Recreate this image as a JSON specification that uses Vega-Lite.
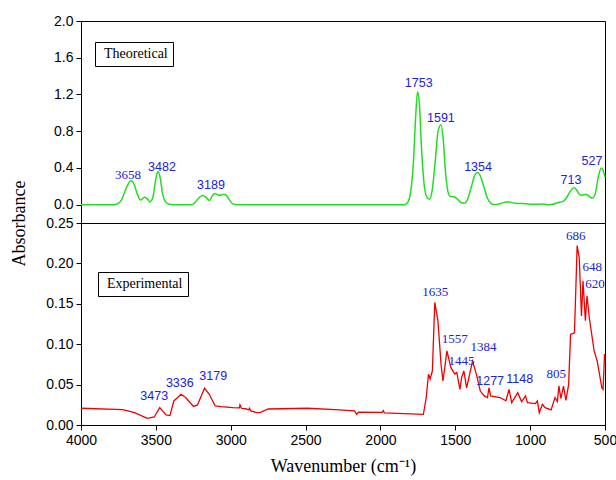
{
  "$schema": "https://vega.github.io/schema/vega-lite/v6.json",
  "padding": {"left": 9, "top": 13, "right": 0, "bottom": 0},
  "background": "white",
  "spacing": 0,
  "bounds": "flush",
  "datasets": {
    "spectra": [
      {"series":"Theoretical","w":4000,"a":0},{"series":"Theoretical","w":3780,"a":0},{"series":"Theoretical","w":3760,"a":0.005},{"series":"Theoretical","w":3730,"a":0.05},{"series":"Theoretical","w":3700,"a":0.17},{"series":"Theoretical","w":3668,"a":0.26},{"series":"Theoretical","w":3650,"a":0.24},{"series":"Theoretical","w":3625,"a":0.12},{"series":"Theoretical","w":3603,"a":0.05},{"series":"Theoretical","w":3576,"a":0.08},{"series":"Theoretical","w":3555,"a":0.06},{"series":"Theoretical","w":3540,"a":0.03},{"series":"Theoretical","w":3520,"a":0.08},{"series":"Theoretical","w":3500,"a":0.28},{"series":"Theoretical","w":3486,"a":0.36},{"series":"Theoretical","w":3472,"a":0.3},{"series":"Theoretical","w":3455,"a":0.12},{"series":"Theoretical","w":3435,"a":0.03},{"series":"Theoretical","w":3410,"a":0.005},{"series":"Theoretical","w":3390,"a":0},{"series":"Theoretical","w":3260,"a":0},{"series":"Theoretical","w":3240,"a":0.02},{"series":"Theoretical","w":3215,"a":0.07},{"series":"Theoretical","w":3188,"a":0.1},{"series":"Theoretical","w":3165,"a":0.08},{"series":"Theoretical","w":3143,"a":0.045},{"series":"Theoretical","w":3125,"a":0.09},{"series":"Theoretical","w":3105,"a":0.12},{"series":"Theoretical","w":3090,"a":0.11},{"series":"Theoretical","w":3075,"a":0.1},{"series":"Theoretical","w":3055,"a":0.11},{"series":"Theoretical","w":3038,"a":0.11},{"series":"Theoretical","w":3020,"a":0.08},{"series":"Theoretical","w":3000,"a":0.03},{"series":"Theoretical","w":2980,"a":0.005},{"series":"Theoretical","w":2960,"a":0},{"series":"Theoretical","w":1840,"a":0},{"series":"Theoretical","w":1820,"a":0.02},{"series":"Theoretical","w":1800,"a":0.12},{"series":"Theoretical","w":1780,"a":0.45},{"series":"Theoretical","w":1765,"a":0.95},{"series":"Theoretical","w":1752,"a":1.23},{"series":"Theoretical","w":1740,"a":1.1},{"series":"Theoretical","w":1725,"a":0.6},{"series":"Theoretical","w":1705,"a":0.18},{"series":"Theoretical","w":1685,"a":0.07},{"series":"Theoretical","w":1670,"a":0.06},{"series":"Theoretical","w":1655,"a":0.15},{"series":"Theoretical","w":1635,"a":0.45},{"series":"Theoretical","w":1615,"a":0.8},{"series":"Theoretical","w":1595,"a":0.87},{"series":"Theoretical","w":1580,"a":0.7},{"series":"Theoretical","w":1565,"a":0.35},{"series":"Theoretical","w":1550,"a":0.15},{"series":"Theoretical","w":1535,"a":0.09},{"series":"Theoretical","w":1510,"a":0.085},{"series":"Theoretical","w":1485,"a":0.06},{"series":"Theoretical","w":1460,"a":0.02},{"series":"Theoretical","w":1440,"a":0.015},{"series":"Theoretical","w":1420,"a":0.05},{"series":"Theoretical","w":1395,"a":0.18},{"series":"Theoretical","w":1370,"a":0.32},{"series":"Theoretical","w":1351,"a":0.35},{"series":"Theoretical","w":1335,"a":0.32},{"series":"Theoretical","w":1310,"a":0.2},{"series":"Theoretical","w":1285,"a":0.07},{"series":"Theoretical","w":1260,"a":0.01},{"series":"Theoretical","w":1240,"a":0},{"series":"Theoretical","w":1200,"a":0.01},{"series":"Theoretical","w":1160,"a":0.03},{"series":"Theoretical","w":1140,"a":0.028},{"series":"Theoretical","w":1100,"a":0.015},{"series":"Theoretical","w":1050,"a":0.012},{"series":"Theoretical","w":1000,"a":0.005},{"series":"Theoretical","w":960,"a":0.003},{"series":"Theoretical","w":920,"a":0.008},{"series":"Theoretical","w":880,"a":0},{"series":"Theoretical","w":850,"a":0.003},{"series":"Theoretical","w":820,"a":0.02},{"series":"Theoretical","w":780,"a":0.035},{"series":"Theoretical","w":755,"a":0.08},{"series":"Theoretical","w":730,"a":0.15},{"series":"Theoretical","w":707,"a":0.185},{"series":"Theoretical","w":690,"a":0.16},{"series":"Theoretical","w":670,"a":0.11},{"series":"Theoretical","w":656,"a":0.1},{"series":"Theoretical","w":640,"a":0.11},{"series":"Theoretical","w":624,"a":0.11},{"series":"Theoretical","w":605,"a":0.09},{"series":"Theoretical","w":584,"a":0.07},{"series":"Theoretical","w":565,"a":0.12},{"series":"Theoretical","w":545,"a":0.3},{"series":"Theoretical","w":525,"a":0.4},{"series":"Theoretical","w":512,"a":0.37},{"series":"Theoretical","w":500,"a":0.3},
      {"series":"Experimental","w":4000,"a":0.0207},{"series":"Experimental","w":3721,"a":0.019},{"series":"Experimental","w":3642,"a":0.0153},{"series":"Experimental","w":3558,"a":0.0083},{"series":"Experimental","w":3511,"a":0.0099},{"series":"Experimental","w":3474,"a":0.0215},{"series":"Experimental","w":3432,"a":0.0124},{"series":"Experimental","w":3406,"a":0.0116},{"series":"Experimental","w":3380,"a":0.0298},{"series":"Experimental","w":3354,"a":0.034},{"series":"Experimental","w":3333,"a":0.038},{"series":"Experimental","w":3301,"a":0.034},{"series":"Experimental","w":3249,"a":0.023},{"series":"Experimental","w":3222,"a":0.0248},{"series":"Experimental","w":3175,"a":0.0455},{"series":"Experimental","w":3143,"a":0.038},{"series":"Experimental","w":3104,"a":0.0236},{"series":"Experimental","w":3064,"a":0.0227},{"series":"Experimental","w":2986,"a":0.0215},{"series":"Experimental","w":2942,"a":0.0212},{"series":"Experimental","w":2938,"a":0.0248},{"series":"Experimental","w":2928,"a":0.0207},{"series":"Experimental","w":2894,"a":0.0198},{"series":"Experimental","w":2880,"a":0.0186},{"series":"Experimental","w":2875,"a":0.0207},{"series":"Experimental","w":2865,"a":0.0174},{"series":"Experimental","w":2828,"a":0.0153},{"series":"Experimental","w":2802,"a":0.0157},{"series":"Experimental","w":2749,"a":0.0198},{"series":"Experimental","w":2487,"a":0.0207},{"series":"Experimental","w":2303,"a":0.019},{"series":"Experimental","w":2172,"a":0.0174},{"series":"Experimental","w":2159,"a":0.0132},{"series":"Experimental","w":2146,"a":0.016},{"series":"Experimental","w":1989,"a":0.0157},{"series":"Experimental","w":1981,"a":0.018},{"series":"Experimental","w":1973,"a":0.0149},{"series":"Experimental","w":1713,"a":0.0132},{"series":"Experimental","w":1694,"a":0.034},{"series":"Experimental","w":1679,"a":0.063},{"series":"Experimental","w":1668,"a":0.057},{"series":"Experimental","w":1653,"a":0.067},{"series":"Experimental","w":1637,"a":0.1517},{"series":"Experimental","w":1616,"a":0.129},{"series":"Experimental","w":1595,"a":0.075},{"series":"Experimental","w":1582,"a":0.0545},{"series":"Experimental","w":1556,"a":0.0917},{"series":"Experimental","w":1529,"a":0.071},{"series":"Experimental","w":1503,"a":0.063},{"series":"Experimental","w":1490,"a":0.065},{"series":"Experimental","w":1469,"a":0.044},{"series":"Experimental","w":1458,"a":0.0587},{"series":"Experimental","w":1443,"a":0.067},{"series":"Experimental","w":1424,"a":0.046},{"series":"Experimental","w":1385,"a":0.079},{"series":"Experimental","w":1359,"a":0.063},{"series":"Experimental","w":1333,"a":0.042},{"series":"Experimental","w":1306,"a":0.036},{"series":"Experimental","w":1285,"a":0.034},{"series":"Experimental","w":1275,"a":0.046},{"series":"Experimental","w":1264,"a":0.036},{"series":"Experimental","w":1201,"a":0.034},{"series":"Experimental","w":1162,"a":0.03},{"series":"Experimental","w":1141,"a":0.044},{"series":"Experimental","w":1123,"a":0.0277},{"series":"Experimental","w":1083,"a":0.04},{"series":"Experimental","w":1057,"a":0.029},{"series":"Experimental","w":1031,"a":0.036},{"series":"Experimental","w":1018,"a":0.0277},{"series":"Experimental","w":965,"a":0.0264},{"series":"Experimental","w":952,"a":0.0298},{"series":"Experimental","w":939,"a":0.0153},{"series":"Experimental","w":918,"a":0.0256},{"series":"Experimental","w":900,"a":0.0215},{"series":"Experimental","w":860,"a":0.0186},{"series":"Experimental","w":834,"a":0.034},{"series":"Experimental","w":818,"a":0.029},{"series":"Experimental","w":808,"a":0.0483},{"series":"Experimental","w":795,"a":0.033},{"series":"Experimental","w":777,"a":0.048},{"series":"Experimental","w":761,"a":0.0306},{"series":"Experimental","w":743,"a":0.05},{"series":"Experimental","w":730,"a":0.112},{"series":"Experimental","w":704,"a":0.114},{"series":"Experimental","w":686,"a":0.222},{"series":"Experimental","w":672,"a":0.207},{"series":"Experimental","w":657,"a":0.135},{"series":"Experimental","w":647,"a":0.1785},{"series":"Experimental","w":631,"a":0.129},{"series":"Experimental","w":620,"a":0.16},{"series":"Experimental","w":605,"a":0.133},{"series":"Experimental","w":573,"a":0.092},{"series":"Experimental","w":552,"a":0.079},{"series":"Experimental","w":521,"a":0.046},{"series":"Experimental","w":513,"a":0.044},{"series":"Experimental","w":503,"a":0.087},{"series":"Experimental","w":500,"a":0.087}
    ],
    "peaks": [
      {"series":"Theoretical","w":3686,"a":0.28,"label":"3658","font":"serif"},
      {"series":"Theoretical","w":3459,"a":0.37,"label":"3482","font":"sans"},
      {"series":"Theoretical","w":3132,"a":0.175,"label":"3189","font":"sans"},
      {"series":"Theoretical","w":1744,"a":1.28,"label":"1753","font":"sans"},
      {"series":"Theoretical","w":1596,"a":0.9,"label":"1591","font":"sans"},
      {"series":"Theoretical","w":1348,"a":0.37,"label":"1354","font":"sans"},
      {"series":"Theoretical","w":727,"a":0.23,"label":"713","font":"sans"},
      {"series":"Theoretical","w":587,"a":0.43,"label":"527","font":"sans"},
      {"series":"Experimental","w":3511,"a":0.0314,"label":"3473","font":"sans"},
      {"series":"Experimental","w":3340,"a":0.047,"label":"3336","font":"sans"},
      {"series":"Experimental","w":3117,"a":0.0554,"label":"3179","font":"sans"},
      {"series":"Experimental","w":1634,"a":0.1595,"label":"1635","font":"serif"},
      {"series":"Experimental","w":1503,"a":0.1017,"label":"1557","font":"serif"},
      {"series":"Experimental","w":1458,"a":0.074,"label":"1445","font":"serif"},
      {"series":"Experimental","w":1312,"a":0.0913,"label":"1384","font":"serif"},
      {"series":"Experimental","w":1267,"a":0.05,"label":"1277","font":"sans"},
      {"series":"Experimental","w":1070,"a":0.052,"label":"1148","font":"sans"},
      {"series":"Experimental","w":826,"a":0.0583,"label":"805","font":"serif"},
      {"series":"Experimental","w":695,"a":0.229,"label":"686","font":"serif"},
      {"series":"Experimental","w":585,"a":0.191,"label":"648","font":"serif"},
      {"series":"Experimental","w":567,"a":0.169,"label":"620","font":"serif"}
    ]
  },
  "config": {
    "view": {"stroke": "black", "strokeWidth": 1},
    "axis": {
      "labelFont": "Liberation Sans", "labelFontSize": 14, "labelColor": "black",
      "tickColor": "black", "tickSize": 5, "domainColor": "black", "grid": false,
      "titleFont": "Liberation Serif", "titleFontSize": 18, "titleFontWeight": "normal", "titleColor": "black",
      "labelFlush": false, "labelOverlap": false, "labelPadding": 3
    },
    "legend": {
      "orient": "none", "title": null, "symbolType": "circle", "symbolSize": 0, "symbolOpacity": 0, "symbolStrokeWidth": 0,
      "labelOffset": -10, "padding": 5, "strokeColor": "black", "fillColor": "white",
      "labelFont": "Liberation Serif", "labelFontSize": 14, "labelColor": "black"
    }
  },
  "vconcat": [
    {
      "width": 524,
      "height": 202,
      "layer": [
        {
          "data": {"name": "spectra"},
          "transform": [{"filter": "datum.series === 'Theoretical'"}],
          "mark": {"type": "line", "strokeWidth": 1.5, "interpolate": "monotone"},
          "encoding": {
            "x": {"field": "w", "type": "quantitative", "scale": {"domain": [500, 4000], "reverse": true, "nice": false, "zero": false}, "axis": null},
            "y": {"field": "a", "type": "quantitative", "scale": {"domain": [-0.2, 2.0], "nice": false, "zero": false},
                  "axis": {"values": [0, 0.4, 0.8, 1.2, 1.6, 2.0], "format": ".1f", "title": "Absorbance", "titleX": -62, "titleY": 202, "titleAlign": "center", "titleBaseline": "middle", "titleAngle": 270}},
            "color": {"field": "series", "type": "nominal", "scale": {"domain": ["Theoretical"], "range": ["#22dd22"]},
                      "legend": {"legendX": 14, "legendY": 21}}
          }
        },
        {
          "data": {"name": "peaks"},
          "transform": [{"filter": "datum.series === 'Theoretical' && datum.font === 'sans'"}],
          "mark": {"type": "text", "font": "Liberation Sans", "fontSize": 12.5, "color": "#2020e0", "align": "center", "baseline": "alphabetic"},
          "encoding": {
            "x": {"field": "w", "type": "quantitative"},
            "y": {"field": "a", "type": "quantitative"},
            "text": {"field": "label"}
          }
        },
        {
          "data": {"name": "peaks"},
          "transform": [{"filter": "datum.series === 'Theoretical' && datum.font === 'serif'"}],
          "mark": {"type": "text", "font": "Liberation Serif", "fontSize": 13, "color": "#2020e0", "align": "center", "baseline": "alphabetic"},
          "encoding": {
            "x": {"field": "w", "type": "quantitative"},
            "y": {"field": "a", "type": "quantitative"},
            "text": {"field": "label"}
          }
        }
      ]
    },
    {
      "width": 524,
      "height": 202,
      "layer": [
        {
          "data": {"name": "spectra"},
          "transform": [{"filter": "datum.series === 'Experimental'"}],
          "mark": {"type": "line", "strokeWidth": 1.3},
          "encoding": {
            "x": {"field": "w", "type": "quantitative", "scale": {"domain": [500, 4000], "reverse": true, "nice": false, "zero": false},
                  "axis": {"values": [4000, 3500, 3000, 2500, 2000, 1500, 1000, 500], "format": "d", "title": "Wavenumber (cm⁻¹)", "titlePadding": 10}},
            "y": {"field": "a", "type": "quantitative", "scale": {"domain": [0, 0.25], "nice": false},
                  "axis": {"values": [0, 0.05, 0.1, 0.15, 0.2, 0.25], "format": ".2f", "title": null}},
            "color": {"field": "series", "type": "nominal", "scale": {"domain": ["Experimental"], "range": ["#ee0000"]},
                      "legend": {"legendX": 17, "legendY": 49}}
          }
        },
        {
          "data": {"name": "peaks"},
          "transform": [{"filter": "datum.series === 'Experimental' && datum.font === 'sans'"}],
          "mark": {"type": "text", "font": "Liberation Sans", "fontSize": 12.5, "color": "#2020e0", "align": "center", "baseline": "alphabetic"},
          "encoding": {
            "x": {"field": "w", "type": "quantitative"},
            "y": {"field": "a", "type": "quantitative"},
            "text": {"field": "label"}
          }
        },
        {
          "data": {"name": "peaks"},
          "transform": [{"filter": "datum.series === 'Experimental' && datum.font === 'serif'"}],
          "mark": {"type": "text", "font": "Liberation Serif", "fontSize": 13, "color": "#2020e0", "align": "center", "baseline": "alphabetic"},
          "encoding": {
            "x": {"field": "w", "type": "quantitative"},
            "y": {"field": "a", "type": "quantitative"},
            "text": {"field": "label"}
          }
        }
      ]
    }
  ],
  "resolve": {"scale": {"color": "independent", "x": "independent", "y": "independent"}, "legend": {"color": "independent"}}
}
